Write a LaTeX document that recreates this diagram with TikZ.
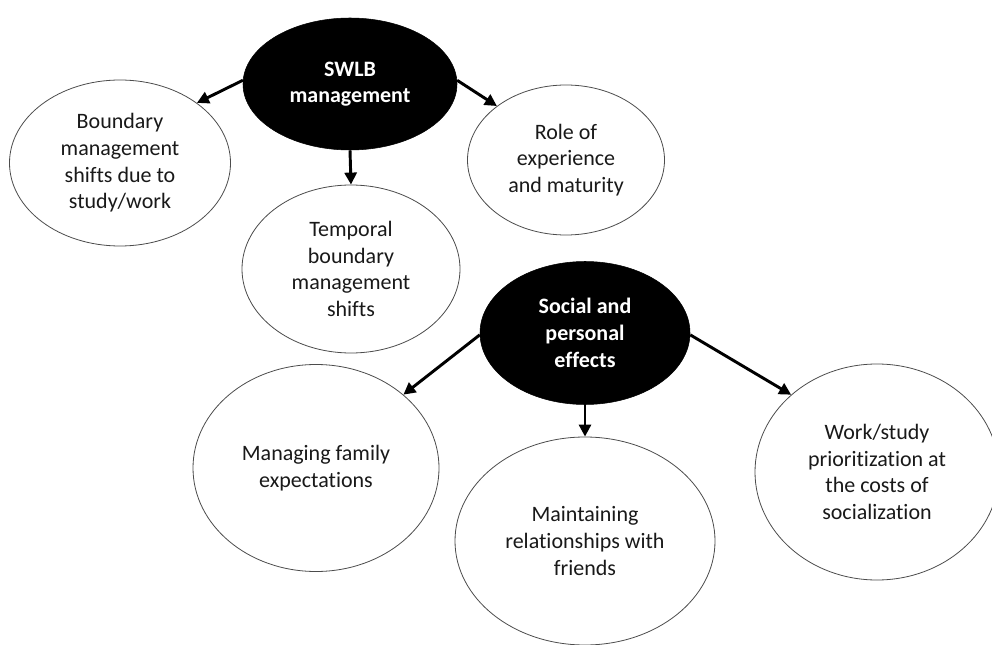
\documentclass[tikz,border=0pt]{standalone}
\usepackage{fontspec}
\setmainfont{Carlito}[Ligatures=CommonOff]
\usetikzlibrary{shapes.geometric,arrows.meta}

\begin{document}
\begin{tikzpicture}[x=0.75pt,y=-0.75pt,
  topic/.style={ellipse,draw=black!70,line width=0.6pt,fill=white,inner sep=0pt,
    align=center,text=black!90,font=\fontsize{16.5}{20}\selectfont},
  theme/.style={ellipse,draw=black,fill=black,inner sep=0pt,
    align=center,text=white,font=\fontsize{16.5}{20}\selectfont\bfseries},
  link/.style={line width=2.2pt,-{Triangle[length=9pt,width=9pt]}}]

\useasboundingbox (0,0) rectangle (992,645);
\clip (0,0) rectangle (992,645);

% first theme and its sub-themes
\node[theme,minimum width=160.5pt,minimum height=99pt] (swlb) at (350,84) {SWLB\\management};
\node[topic,minimum width=165.75pt,minimum height=124.5pt] (bnd) at (120,163)
  {Boundary\\management\\shifts due to\\study/work};
\node[topic,minimum width=147.75pt,minimum height=112.5pt] (role) at (566,160)
  {Role of\\experience\\and maturity};
\node[topic,minimum width=163.5pt,minimum height=126pt] (temp) at (351,269)
  {Temporal\\boundary\\management\\shifts};

% second theme and its sub-themes
\node[theme,minimum width=157.5pt,minimum height=107.25pt] (soc) at (585,333)
  {Social and\\personal\\effects};
\node[topic,minimum width=184.5pt,minimum height=155.25pt] (fam) at (316,468)
  {Managing family\\expectations};
\node[topic,minimum width=195pt,minimum height=156pt] (mnt) at (585,541)
  {Maintaining\\relationships with\\friends};
\node[topic,minimum width=183pt,minimum height=162pt] (wrk) at (877,472)
  {Work/study\\prioritization at\\the costs of\\socialization};

% connectors
\draw[link] (swlb.178) -- (bnd.38);
\draw[link] (swlb.2) -- (role.142);
\draw[link] (swlb.south) -- (temp.north);
\draw[link] (soc.181) -- (fam.40);
\draw[link] (soc.south) -- (mnt.north);
\draw[link] (soc.359) -- (wrk.138);
\end{tikzpicture}
\end{document}
